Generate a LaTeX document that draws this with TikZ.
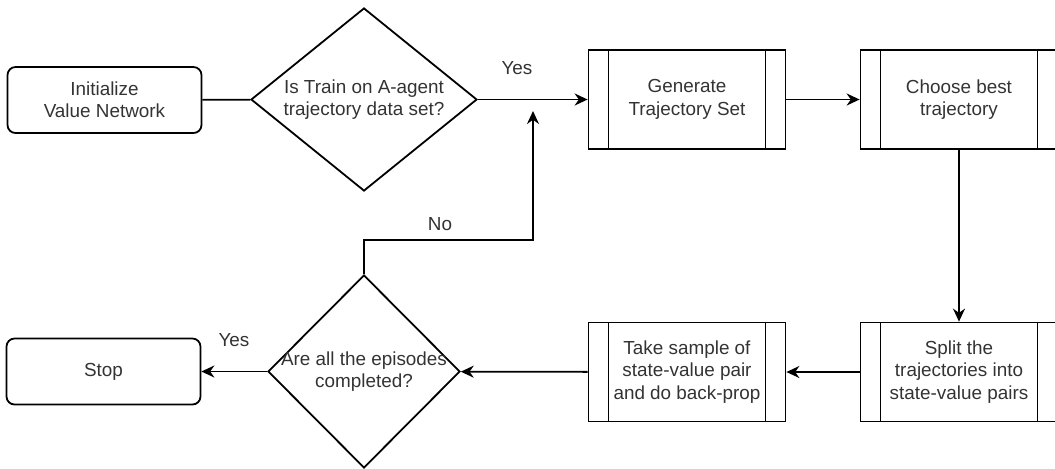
\documentclass[tikz,border=0pt]{standalone}
\usepackage{fontspec}
\setmainfont{Liberation Sans}
\usetikzlibrary{shapes.geometric,calc,arrows.meta}

\begin{document}
\begin{tikzpicture}[x=0.02cm, y=-0.02cm,
    every node/.style={font=\fontsize{10.75}{12.7}\selectfont, text=black!80},
    terminal/.style={draw=black, line width=0.36mm, rounded corners=0.16cm, align=center,
        minimum width=3.88cm, minimum height=1.32cm},
    process/.style={draw=black, line width=0.36mm, align=center, inner sep=0pt,
        minimum width=3.94cm, minimum height=1.98cm,
        path picture={
            \draw[line width=0.36mm] ([xshift=0.4cm]path picture bounding box.north west)
                -- ([xshift=0.4cm]path picture bounding box.south west);
            \draw[line width=0.36mm] ([xshift=-0.4cm]path picture bounding box.north east)
                -- ([xshift=-0.4cm]path picture bounding box.south east);
        }},
    decision/.style={draw=black, line width=0.36mm, diamond, inner sep=0pt},
    question/.style={align=center},
    flow/.style={draw=black, line width=0.36mm, -{Stealth[length=0.26cm, width=0.24cm]}},
    link/.style={draw=black, line width=0.36mm}]

    \useasboundingbox (0,0) rectangle (1055,468);

    \coordinate (turn) at (533, 240);
    \coordinate (loopend) at (533, 111);

    % top row
    \node[terminal] (init) at (104.5, 100) {Initialize\\Value Network};
    \node[decision, minimum width=4.52cm, minimum height=3.66cm] (trainq) at (364, 99.5) {};
    \node[question] (trainqtxt) at (trainq) {Is Train on A-agent\\trajectory data set?};
    \node[process] (generate) at (687, 99.5) {Generate\\Trajectory Set};
    \node[process] (choose) at (959, 99.5) {Choose best\\trajectory};

    % bottom row
    \node[process] (split) at (959, 372) {Split the\\trajectories into\\state-value pairs};
    \node[process] (sample) at (687, 372) {Take sample of\\state-value pair\\and do back-prop};
    \node[decision, minimum width=3.84cm, minimum height=3.86cm] (doneq) at (364, 371.5) {};
    \node[question] (doneqtxt) at (doneq) {Are all the episodes\\completed?};
    \node[terminal] (stop) at (103.5, 371.5) {Stop};

    % connectors
    \draw[link] (init) -- (trainq);
    \draw[flow] (trainq) -- (generate);
    \draw[flow] (generate) -- (choose);
    \draw[flow] (choose) -- (split);
    \draw[flow] (split) -- (sample);
    \draw[flow] (sample) -- (doneq);
    \draw[flow] (doneq) -- (stop);
    \draw[flow] (doneq.north) |- (turn) -- (loopend);

    % Labels
    \node (yestop) at (517, 68) {Yes};
    \node (yesbottom) at (234, 340) {Yes};
    \node (nolabel) at (440, 224) {No};
\end{tikzpicture}
\end{document}
